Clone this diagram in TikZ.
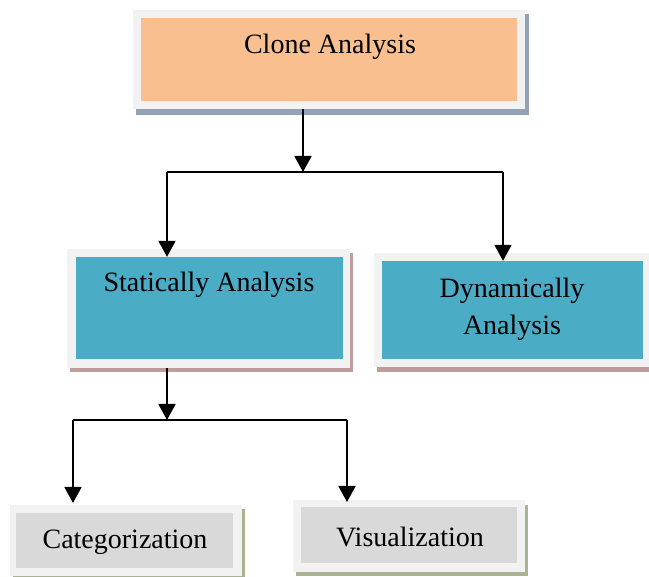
\documentclass[tikz,border=0pt]{standalone}
\usepackage{fontspec}
\setmainfont{Liberation Serif}
\usetikzlibrary{arrows.meta}
\definecolor{frameC}{HTML}{F2F2F2}
\definecolor{orangeC}{HTML}{F9BF8F}
\definecolor{blueC}{HTML}{4BACC6}
\definecolor{grayC}{HTML}{D9D9D9}
\definecolor{shBlue}{HTML}{93A3B5}
\definecolor{shRose}{HTML}{C09C9C}
\definecolor{shOlive}{HTML}{A8B394}
\tikzset{
  boxframe/.style={fill=frameC, draw=none},
  boxinner/.style={draw=none, inner sep=0pt},
  lbl/.style={font=\fontsize{28}{32}\selectfont, align=center, inner sep=0pt},
  conn/.style={line width=1.8pt, black},
  arr/.style={conn, -{Triangle[length=16pt,width=17pt]}},
}
\begin{document}
\begin{tikzpicture}[x=1pt,y=-1pt]
\useasboundingbox (0,0) rectangle (649,577);
% ---- Clone Analysis
\fill[shBlue] (136,14) rectangle (529,115);
\fill[frameC] (133,10) rectangle (525,109);
\fill[orangeC] (141,18) rectangle (517,101);
\node[boxinner, minimum width=392pt, minimum height=99pt] (clone) at (329,59.5) {};
\node[lbl] (cloneT) at (330,47) {Clone Analysis};
% ---- Statically Analysis
\fill[shRose] (70,253) rectangle (353,372);
\fill[frameC] (67,249) rectangle (350,368);
\fill[blueC] (76,257) rectangle (343,359);
\node[boxinner, minimum width=267pt, minimum height=102pt] (stat) at (209.5,308) {};
\node[lbl] (statT) at (209,285) {Statically Analysis};
% ---- Dynamically Analysis
\fill[shRose] (377,257) rectangle (652,372);
\fill[frameC] (374,253) rectangle (649,367);
\fill[blueC] (382,261) rectangle (643,359);
\node[boxinner, minimum width=261pt, minimum height=98pt] (dyn) at (512.5,310) {};
\node[lbl] (dynT) at (512,309) {Dynamically\\[5pt]Analysis};
% ---- Categorization
\fill[shOlive] (13,509) rectangle (245,580);
\fill[frameC] (10,505) rectangle (242,576);
\fill[grayC] (16,513) rectangle (233,568);
\node[boxinner, minimum width=217pt, minimum height=55pt] (cat) at (124.5,540.5) {};
\node[lbl] (catT) at (125,542) {Categorization};
% ---- Visualization
\fill[shOlive] (296,505) rectangle (528,576);
\fill[frameC] (293,500) rectangle (525,572);
\fill[grayC] (301,507) rectangle (517,563);
\node[boxinner, minimum width=216pt, minimum height=56pt] (vis) at (409,535) {};
\node[lbl] (visT) at (410,537) {Visualization};
% ---- connectors
\coordinate (j1) at (303,172);
\coordinate (j1l) at (167,172);
\coordinate (j1r) at (503,172);
\draw[arr] (clone.south -| j1) -- (j1);
\draw[conn] (j1l) -- (j1r);
\draw[arr] (j1l) -- (j1l |- stat.north);
\draw[arr] (j1r) -- (j1r |- dyn.north);
\coordinate (j2) at (167,420);
\coordinate (j2l) at (73,420);
\coordinate (j2r) at (347,420);
\draw[arr] (167,368) -- (j2);
\draw[conn] (j2l) -- (j2r);
\draw[arr] (j2l) -- (73,503);
\draw[arr] (j2r) -- (347,502);
\end{tikzpicture}
\end{document}
